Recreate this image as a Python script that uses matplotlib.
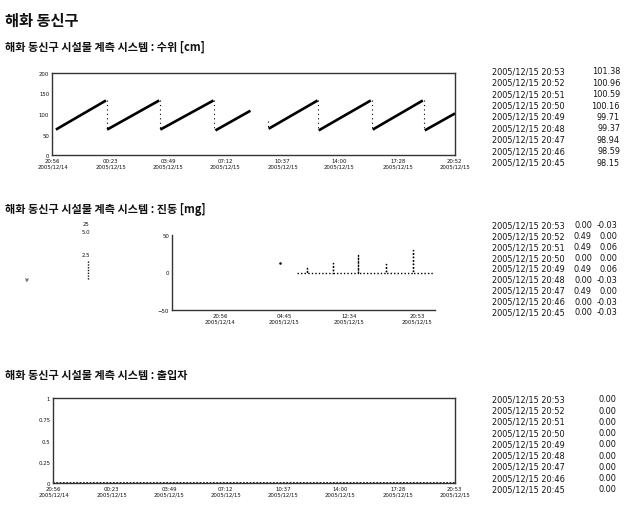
import numpy as np
import matplotlib
matplotlib.use('Agg')
import matplotlib.pyplot as plt

# ---------------- data ----------------
title = '해화 동신구'
sub1 = '해화 동신구 시설물 계측 시스템 : 수위 [cm]'
sub2 = '해화 동신구 시설물 계측 시스템 : 진동 [mg]'
sub3 = '해화 동신구 시설물 계측 시스템 : 출입자'

# water level: rising segments (start/end time, start/end value)
rise_t0 = ['2005-12-14T21:07', '2005-12-15T00:10', '2005-12-15T03:20', '2005-12-15T06:37',
           '2005-12-15T09:47', '2005-12-15T12:46', '2005-12-15T15:59', '2005-12-15T19:05']
rise_v0 = [62, 62, 62, 60, 64, 60, 62, 60]
rise_t1 = ['2005-12-15T00:06', '2005-12-15T03:16', '2005-12-15T06:30', '2005-12-15T08:42',
           '2005-12-15T12:42', '2005-12-15T15:52', '2005-12-15T18:58', '2005-12-15T20:53']
rise_v1 = [133, 133, 133, 108, 133, 133, 133, 101.38]
# drops (time, top value, bottom value)
drop_t = ['2005-12-15T00:08', '2005-12-15T03:18', '2005-12-15T06:33', '2005-12-15T09:45',
          '2005-12-15T12:44', '2005-12-15T15:55', '2005-12-15T19:01']
drop_hi = [133, 133, 133, 84, 133, 133, 133]
drop_lo = [62, 62, 60, 64, 60, 62, 60]

x_start = '2005-12-14T20:53'
x_end = '2005-12-15T20:53'
tick_t = ['2005-12-14T20:56', '2005-12-15T00:23', '2005-12-15T03:49', '2005-12-15T07:12',
          '2005-12-15T10:37', '2005-12-15T14:00', '2005-12-15T17:28', '2005-12-15T20:52']
tick_lab = ['20:56\n2005/12/14', '00:23\n2005/12/15', '03:49\n2005/12/15', '07:12\n2005/12/15',
            '10:37\n2005/12/15', '14:00\n2005/12/15', '17:28\n2005/12/15', '20:52\n2005/12/15']
tick_lab3 = ['20:56\n2005/12/14', '00:23\n2005/12/15', '03:49\n2005/12/15', '07:12\n2005/12/15',
             '10:37\n2005/12/15', '14:00\n2005/12/15', '17:28\n2005/12/15', '20:53\n2005/12/15']

# vibration (hours after 2005/12/14 20:56)
vib_t = [9.4, 10.6, 10.6, 10.6, 13.7, 13.7, 13.7, 16.8, 16.8, 16.8, 20.2, 20.2, 20.2,
         23.45, 23.45, 23.45, 25.9]
vib_v = [0, 0, 6, 0, 0, 13, 0, 0, 24, 0, 0, 11, 0, 0, 30, 0, 0]
vib_dot_t = [7.3]
vib_dot_v = [13]
vib_ticks = [0, 7.82, 15.63, 23.95]
vib_tick_lab = ['20:56\n2005/12/14', '04:45\n2005/12/15', '12:34\n2005/12/15', '20:53\n2005/12/15']

# access (all zero)
acc_t = ['2005-12-14T20:53', '2005-12-15T20:53']
acc_v = [0, 0]

# tables
tab_times = ['2005/12/15 20:53', '2005/12/15 20:52', '2005/12/15 20:51', '2005/12/15 20:50',
             '2005/12/15 20:49', '2005/12/15 20:48', '2005/12/15 20:47', '2005/12/15 20:46',
             '2005/12/15 20:45']
t1_vals = ['101.38', '100.96', '100.59', '100.16', '99.71', '99.37', '98.94', '98.59', '98.15']
t2_a = ['0.00', '0.49', '0.49', '0.00', '0.49', '0.00', '0.49', '0.00', '0.00']
t2_b = ['-0.03', '0.00', '0.06', '0.00', '0.06', '-0.03', '0.00', '-0.03', '-0.03']
t3_vals = ['0.00'] * 9

# ---------------- drawing ----------------
W, H = 639, 506
fig = plt.figure(figsize=(W / 100, H / 100), dpi=100)
fig.patch.set_facecolor('white')
KR = ['Noto Sans CJK KR', 'DejaVu Sans']
INK = '#111111'


def ax_at(x0, y0, x1, y1):
    return fig.add_axes([x0 / W, 1 - y1 / H, (x1 - x0) / W, (y1 - y0) / H])


def ftext(x, y, s, **kw):
    kw.setdefault('color', INK)
    fig.text(x / W, 1 - y / H, s, **kw)


def style(ax):
    for s in ax.spines.values():
        s.set_color('#333333')
        s.set_linewidth(1.0)
    ax.tick_params(length=0, pad=2, labelsize=3.9, colors=INK)
    for lab in ax.get_xticklabels() + ax.get_yticklabels():
        lab.set_family('DejaVu Sans')


def D(s):
    return np.array(s, dtype='datetime64[m]')


ftext(5, 21, title, family=KR, fontsize=11, fontweight='bold', va='center')
ftext(5, 47, sub1, family=KR, fontsize=8, fontweight='bold', va='center')
ftext(5, 209, sub2, family=KR, fontsize=8, fontweight='bold', va='center')
ftext(5, 375, sub3, family=KR, fontsize=8, fontweight='bold', va='center')

# chart 1
ax1 = ax_at(52, 74, 455, 156)
for a, b, c, d in zip(rise_t0, rise_v0, rise_t1, rise_v1):
    ax1.plot(D([a, c]), [b, d], color='black', lw=1.9, solid_capstyle='butt')
for t, hi, lo in zip(drop_t, drop_hi, drop_lo):
    ax1.plot(D([t, t]), [hi, lo], color='black', lw=0.8, ls=(0, (1, 3)))
ax1.set_xlim(D(x_start), D(x_end))
ax1.set_ylim(0, 200)
ax1.set_yticks([0, 50, 100, 150, 200])
ax1.set_xticks(D(tick_t))
ax1.set_xticklabels(tick_lab)
style(ax1)

# chart 2
ax2 = ax_at(172, 236, 435, 311)
ax2.plot(vib_t, vib_v, color='black', lw=1.0, ls=(0, (1, 1.5)))
ax2.plot(vib_dot_t, vib_dot_v, 'o', color='black', ms=0.8)
ax2.set_xlim(-5.83, 26.1)
ax2.set_ylim(-50, 50)
ax2.set_yticks([-50, 0, 50])
ax2.set_xticks(vib_ticks)
ax2.set_xticklabels(vib_tick_lab)
style(ax2)
ax2.spines['top'].set_visible(False)
ax2.spines['right'].set_visible(False)

# stray legend-like marks on the left of chart 2
ftext(86, 224, '25', fontsize=3.9, ha='center', va='center')
ftext(86, 233, '5.0', fontsize=3.9, ha='center', va='center')
ftext(86, 256, '2.5', fontsize=3.9, ha='center', va='center')
fig.add_artist(plt.Line2D([88 / W, 88 / W], [1 - 262 / H, 1 - 281 / H], color=INK, lw=1.0,
                          ls=(0, (1, 1))))
ftext(27, 281, '¥', fontsize=4.5, ha='center', va='center')

# chart 3
ax3 = ax_at(53, 399, 455, 484)
ax3.plot(D(acc_t), acc_v, color='black', lw=1.2, ls=(0, (1, 1)))
ax3.set_xlim(D(x_start), D(x_end))
ax3.set_ylim(0, 1)
ax3.set_yticks([0, 0.25, 0.5, 0.75, 1])
ax3.set_yticklabels(['0', '0.25', '0.5', '0.75', '1'])
ax3.set_xticks(D(tick_t))
ax3.set_xticklabels(tick_lab3)
style(ax3)

# tables
FS = 5.9


def table(y0, y1, cols):
    ys = np.linspace(y0, y1, len(tab_times))
    for i, y in enumerate(ys):
        ftext(492, y, tab_times[i], fontsize=FS, va='center', ha='left')
        for xr, vals in cols:
            ftext(xr, y, vals[i], fontsize=FS, va='center', ha='right')


table(72, 163, [(620, t1_vals)])
table(226, 313, [(592, t2_a), (617, t2_b)])
table(400, 490, [(616, t3_vals)])

fig.savefig('out.png', dpi=100, facecolor='white')
